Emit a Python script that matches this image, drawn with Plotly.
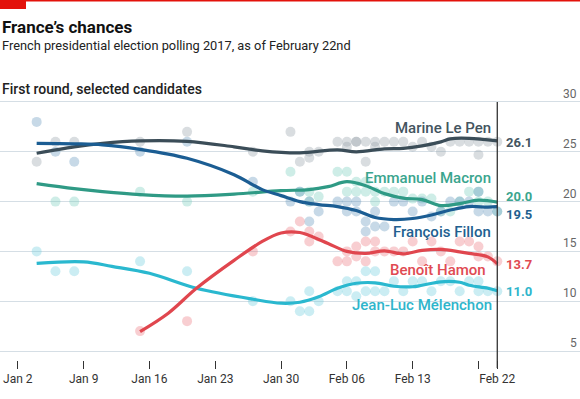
import pandas as pd
import plotly.graph_objects as go

# ---------------- data ----------------
tick_dates = ["2017-01-02", "2017-01-09", "2017-01-16", "2017-01-23", "2017-01-30",
              "2017-02-06", "2017-02-13", "2017-02-20", "2017-02-22"]
tick_labels = ["Jan 2", "Jan 9", "Jan 16", "Jan 23", "Jan 30", "Feb 06", "Feb 13", "", "Feb 22"]
y_ticks = [5, 10, 15, 20, 25, 30]

poll_dates = ["2017-01-04", "2017-01-06", "2017-01-08", "2017-01-15", "2017-01-20", "2017-01-27",
              "2017-01-31", "2017-02-01", "2017-02-02", "2017-02-02", "2017-02-03", "2017-02-05",
              "2017-02-06", "2017-02-06", "2017-02-07", "2017-02-07", "2017-02-08", "2017-02-08",
              "2017-02-09", "2017-02-09", "2017-02-10", "2017-02-11", "2017-02-12", "2017-02-13",
              "2017-02-14", "2017-02-15", "2017-02-16", "2017-02-17", "2017-02-18", "2017-02-19",
              "2017-02-20", "2017-02-20", "2017-02-21", "2017-02-22"]
le_pen_polls = [24, 26, 26, 26, 27, 25, 27, 24, 25, 24.4, 25, 26, 25.5, 26, 26, 26, 26, 24,
                26, 25.5, 26, 26, 26, 25.5, 26, 25.5, 25, 26, 26, 26, 26, 24.7, 26, 26]
fillon_polls = [28, 25, 24, 25, 26, 22, 20, 21, 18, 20, 19, 20, 20, 19, 19, 20, 18, 17,
                17.5, 19, 17.5, 20, 20, 19, 20, 18.5, 19, 20, 20, 20, 19, 21, 19, 19]
macron_polls = [None, 20, 20, 21, 20, 21, 23, 21, 20, 21, 20.5, 23, 23, 21, 22, 21, 21, 22,
                21, 20, 21, 21, 21, 20.3, 20.3, 20.3, 19, 19, 20, 21, 21, 20, 20, 19]
hamon_polls = [None, None, None, 7, 8, 15, 17, 18, 17, 16, 16.5, 14, 14, 15, 14.5, 15.5, 14, 16,
               16, 15, 15, 15, 15, 16, 14, 16, 15, 14, 16, 16, 15.5, 14.5, 14.5, 14]
melenchon_polls = [15, 13, 13, 14, 13, 10, 10, 9, 11, 9, 10, 11, 12, 11, 12, 10.5, 13, 11,
                   13, 11, 11, 12, 11, 12, 12, 11, 12, 12, 11, 12, 12, 11, 11, 11]

le_pen_dates = ["2017-01-04", "2017-01-08", "2017-01-11", "2017-01-15", "2017-01-20", "2017-01-25",
                "2017-01-28", "2017-02-01", "2017-02-05", "2017-02-07", "2017-02-10", "2017-02-12",
                "2017-02-14", "2017-02-16", "2017-02-17", "2017-02-19", "2017-02-22"]
le_pen_trend = [24.85, 25.5, 25.85, 26.1, 26.05, 25.5, 25.1, 24.9, 25.2, 25.0, 25.3, 25.35,
                25.6, 26.0, 26.3, 26.35, 26.1]

fillon_dates = ["2017-01-04", "2017-01-08", "2017-01-11", "2017-01-15", "2017-01-20", "2017-01-25",
                "2017-01-28", "2017-01-30", "2017-02-01", "2017-02-03", "2017-02-05", "2017-02-07",
                "2017-02-09", "2017-02-11", "2017-02-13", "2017-02-15", "2017-02-17", "2017-02-19",
                "2017-02-21", "2017-02-22"]
fillon_trend = [25.85, 25.8, 25.7, 25.25, 24.35, 22.7, 21.2, 20.6, 20.0, 19.7, 19.5, 19.1,
                18.4, 18.2, 18.3, 18.65, 19.15, 19.5, 19.45, 19.5]

macron_dates = ["2017-01-04", "2017-01-08", "2017-01-11", "2017-01-15", "2017-01-20", "2017-01-25",
                "2017-01-30", "2017-02-02", "2017-02-04", "2017-02-06", "2017-02-08", "2017-02-10",
                "2017-02-12", "2017-02-14", "2017-02-16", "2017-02-18", "2017-02-20", "2017-02-22"]
macron_trend = [21.8, 21.3, 21.0, 20.7, 20.55, 20.75, 21.1, 21.2, 21.5, 22.0, 21.6, 20.8,
                20.35, 20.2, 19.6, 19.8, 20.15, 19.95]

hamon_dates = ["2017-01-15", "2017-01-18", "2017-01-21", "2017-01-25", "2017-01-28", "2017-01-30",
               "2017-02-01", "2017-02-02", "2017-02-04", "2017-02-06", "2017-02-08", "2017-02-10",
               "2017-02-12", "2017-02-14", "2017-02-16", "2017-02-18", "2017-02-19", "2017-02-21",
               "2017-02-22"]
hamon_trend = [6.95, 8.8, 11.3, 14.1, 16.0, 16.85, 16.9, 16.6, 15.8, 15.0, 14.8, 15.05,
               14.75, 15.1, 15.2, 14.95, 14.8, 14.45, 13.75]

melenchon_dates = ["2017-01-04", "2017-01-09", "2017-01-12", "2017-01-16", "2017-01-21", "2017-01-27",
                   "2017-01-30", "2017-02-01", "2017-02-03", "2017-02-05", "2017-02-07", "2017-02-09",
                   "2017-02-11", "2017-02-13", "2017-02-14", "2017-02-16", "2017-02-18", "2017-02-19",
                   "2017-02-21", "2017-02-22"]
melenchon_trend = [13.8, 13.95, 13.5, 12.8, 11.3, 10.2, 9.8, 9.9, 10.45, 11.3, 11.8, 11.85,
                   11.5, 11.45, 11.6, 11.95, 11.9, 11.6, 11.3, 11.05]

names = ["Marine Le Pen", "Emmanuel Macron", "François Fillon", "Benoît Hamon", "Jean-Luc Mélenchon"]
final_values = ["26.1", "20.0", "19.5", "13.7", "11.0"]

# ---------------- styles ----------------
FONT = "Roboto"
line_colors = {"Marine Le Pen": "#3b4d58", "Emmanuel Macron": "#2f9a85", "François Fillon": "#1b5d93",
               "Benoît Hamon": "#e0464e", "Jean-Luc Mélenchon": "#2ab8cf"}
text_colors = {"Marine Le Pen": "#44555f", "Emmanuel Macron": "#3aa58e", "François Fillon": "#225f90",
               "Benoît Hamon": "#e04a52", "Jean-Luc Mélenchon": "#2fb5cb"}
dot_colors = {"Marine Le Pen": "rgba(150,160,168,0.36)", "Emmanuel Macron": "rgba(120,205,188,0.36)",
              "François Fillon": "rgba(90,145,185,0.34)", "Benoît Hamon": "rgba(235,120,128,0.36)",
              "Jean-Luc Mélenchon": "rgba(110,205,222,0.36)"}

polls = {"Marine Le Pen": le_pen_polls, "Emmanuel Macron": macron_polls, "François Fillon": fillon_polls,
         "Benoît Hamon": hamon_polls, "Jean-Luc Mélenchon": melenchon_polls}
trends = {"Marine Le Pen": (le_pen_dates, le_pen_trend), "Emmanuel Macron": (macron_dates, macron_trend),
          "François Fillon": (fillon_dates, fillon_trend), "Benoît Hamon": (hamon_dates, hamon_trend),
          "Jean-Luc Mélenchon": (melenchon_dates, melenchon_trend)}

fig = go.Figure()
for n in names:
    fig.add_trace(go.Scatter(x=poll_dates, y=polls[n], mode="markers",
                             marker=dict(size=10, color=dot_colors[n], line=dict(width=0)),
                             hoverinfo="skip", showlegend=False))
for n in ["Marine Le Pen", "Emmanuel Macron", "Jean-Luc Mélenchon", "Benoît Hamon", "François Fillon"]:
    d, v = trends[n]
    fig.add_trace(go.Scatter(x=d, y=v, mode="lines",
                             line=dict(color=line_colors[n], width=3.2, shape="spline", smoothing=1.0),
                             showlegend=False, hoverinfo="skip"))

# plot-area geometry (pixels): y=30 at 102px, y=5 at 351px
W, H = 580, 399
T, B = 97, 39
PH = H - T - B
def py(ypix):
    return (H - B - ypix) / PH

end_date = "2017-02-22"
label_pos = {"Marine Le Pen": (27.39, -4), "Emmanuel Macron": (22.34, -4), "François Fillon": (16.92, -4),
             "Benoît Hamon": (13.16, -9), "Jean-Luc Mélenchon": (9.62, -3)}
value_pos = [25.98, 20.56, 18.68, 13.67, 10.95]

ann = []
for n in names:
    yv, xs = label_pos[n]
    ann.append(dict(x=end_date, y=yv, xref="x", yref="y", text=n, showarrow=False, xanchor="right",
                    yanchor="middle", xshift=xs, font=dict(family=FONT, size=15, color=text_colors[n], weight=500)))
for n, val, yv in zip(names, final_values, value_pos):
    ann.append(dict(x=end_date, y=yv, xref="x", yref="y", text=val, showarrow=False, xanchor="left",
                    yanchor="middle", xshift=7, font=dict(family=FONT, size=13, color=text_colors[n], weight=700)))
for v in y_ticks:
    ann.append(dict(x=1, y=v, xref="paper", yref="y", text=str(v), showarrow=False, xanchor="right",
                    yanchor="bottom", xshift=-1, yshift=-1, font=dict(family=FONT, size=12, color="#666666")))

ann.append(dict(x=0.0, y=py(27), xref="paper", yref="paper", text="France’s chances", showarrow=False,
                xanchor="left", yanchor="middle", font=dict(family=FONT, size=17, color="#111111", weight=700)))
ann.append(dict(x=0.0, y=py(45), xref="paper", yref="paper",
                text="French presidential election polling 2017, as of February 22nd", showarrow=False,
                xanchor="left", yanchor="middle", font=dict(family=FONT, size=12.8, color="#222222")))
ann.append(dict(x=0.0, y=py(89), xref="paper", yref="paper", text="First round, selected candidates",
                showarrow=False, xanchor="left", yanchor="middle",
                font=dict(family=FONT, size=14, color="#222222", weight=500)))

shapes = [
    dict(type="rect", xref="paper", yref="paper", x0=0, x1=26 / W, y0=py(9), y1=py(0),
         fillcolor="#e3120b", line=dict(width=0)),
    dict(type="rect", xref="paper", yref="paper", x0=0, x1=1, y0=py(1.5), y1=py(0),
         fillcolor="#e3120b", line=dict(width=0)),
    dict(type="line", xref="x", yref="paper", x0=end_date, x1=end_date, y0=py(368), y1=py(102),
         line=dict(color="#333333", width=1.3)),
]

day0 = pd.Timestamp("2017-01-02")
x_start = (day0 - pd.Timedelta(days=1.9)).strftime("%Y-%m-%d %H:%M")
x_end = (day0 + pd.Timedelta(days=59.8)).strftime("%Y-%m-%d %H:%M")

fig.update_layout(
    width=W, height=H, margin=dict(l=0, r=0, t=T, b=B, autoexpand=False),
    paper_bgcolor="white", plot_bgcolor="white",
    annotations=ann, shapes=shapes,
    xaxis=dict(range=[x_start, x_end], tickvals=tick_dates, ticktext=tick_labels, automargin=False,
               showgrid=False, zeroline=False, showline=False, ticks="outside", ticklen=8,
               tickcolor="#333333", tickwidth=1, anchor="free", position=0,
               tickfont=dict(family=FONT, size=12, color="#333333")),
    yaxis=dict(range=[4.5, 30.5], domain=[(H - B - 356) / PH, 1], automargin=False,
               tickvals=y_ticks, showticklabels=False,
               showgrid=True, gridcolor="#d5dee5", gridwidth=1, zeroline=False, showline=False, ticks=""),
)

fig.write_html("out.html", config={"displayModeBar": False},
               post_script="document.body.style.margin='0px';")
